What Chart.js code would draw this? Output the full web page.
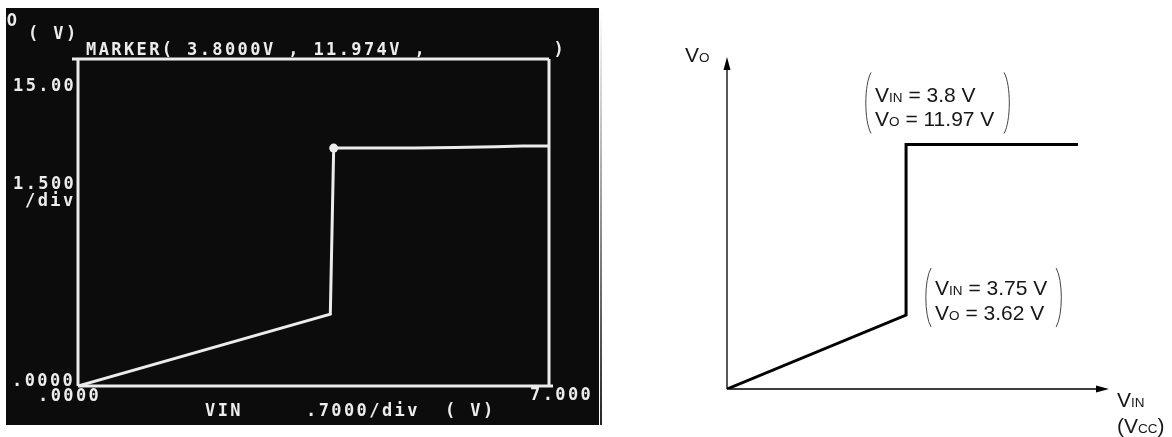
<!DOCTYPE html>
<html lang="en">
<head>
<meta charset="UTF-8">
<title>VIN - VO characteristic</title>
<script src="https://cdn.jsdelivr.net/npm/chart.js"></script>
<style>
    html, body { margin: 0; padding: 0; background: #fff; }
    body { width: 1172px; height: 437px; position: relative; overflow: hidden; }
    #scopeBox { position: absolute; left: 0; top: 0; width: 600px; height: 437px; }
    #sketchBox { position: absolute; left: 600px; top: 0; width: 572px; height: 437px; }
</style>
</head>
<body>

<!-- left: photo of the curve tracer screen, right: the redrawn sketch -->
<div id="scopeBox"><canvas id="scopeChart" width="600" height="437"></canvas></div>
<div id="sketchBox"><canvas id="sketchChart" width="572" height="437"></canvas></div>

<script>
    // measured trace on the scope (V)
    var scopeVin = [0, 3.75, 3.8, 5.0, 5.6, 6.2, 6.6, 7.0];
    var scopeVo = [0, 3.62, 11.974, 11.98, 12.0, 12.04, 12.08, 12.08];
    var markerVin = [3.8];
    var markerVo = [11.974];
    var scopeXRange = [0, 7];
    var scopeYRange = [0, 16.46];
    var scopeYTicks = [15, 0];
    var scopeYTickLabels = ['15.00', '.0000'];
    var scopeXTicks = [0, 7];
    var scopeXTickLabels = ['.0000', '7.000'];

    // sketch of the same curve (step drawn vertical)
    var sketchVin = [0, 3.75, 3.75, 7.35];
    var sketchVo = [0, 3.62, 11.97, 11.97];
    var sketchXRange = [0, 8];
    var sketchYRange = [0, 16.25];

    function toPoints(xs, ys) {
        return xs.map(function (x, i) { return {x: x, y: ys[i]}; });
    }

    var SCOPE_FG = '#ececec';
    var SCOPE_FONT = 'bold 17px "DejaVu Sans Mono"';

    var scopeScreen = {
        id: 'scopeScreen',
        beforeDraw: function (chart) {
            var ctx = chart.ctx;
            ctx.save();
            ctx.fillStyle = '#ffffff';
            ctx.fillRect(0, 0, chart.width, chart.height);
            ctx.fillStyle = '#0c0c0c';
            ctx.fillRect(6, 8, 593, 417);
            ctx.restore();
        },
        beforeDatasetsDraw: function (chart) {
            var ctx = chart.ctx;
            var a = chart.chartArea;
            ctx.save();
            ctx.strokeStyle = SCOPE_FG;
            ctx.lineWidth = 3;
            ctx.beginPath();
            ctx.moveTo(a.left - 6, a.top); ctx.lineTo(a.right, a.top);
            ctx.moveTo(a.left, a.top); ctx.lineTo(a.left, a.bottom);
            ctx.moveTo(a.right, a.top); ctx.lineTo(a.right, a.bottom);
            ctx.moveTo(a.left, a.bottom); ctx.lineTo(a.right + 4, a.bottom);
            ctx.stroke();
            ctx.restore();
        },
        afterDraw: function (chart) {
            var ctx = chart.ctx;
            var a = chart.chartArea;
            var xs = chart.scales.x, ys = chart.scales.y;
            ctx.save();
            ctx.beginPath();
            ctx.rect(6, 8, 593, 417);
            ctx.clip();
            ctx.fillStyle = SCOPE_FG;
            ctx.font = SCOPE_FONT;
            ctx.letterSpacing = '2.4px';
            ctx.textBaseline = 'middle';
            ctx.textAlign = 'left';

            // y axis title and the marker readout
            ctx.fillText('VO', a.left - 84, a.top - 37);
            ctx.fillText('( V)', a.left - 50, a.top - 24);
            ctx.fillText('MARKER( 3.8000V , 11.974V ,          )', a.left + 8, a.top - 8);

            // y ticks
            ctx.fillText(scopeYTickLabels[0], a.left - 65, ys.getPixelForValue(scopeYTicks[0]) - 1);
            ctx.fillText(scopeYTickLabels[1], a.left - 66, ys.getPixelForValue(scopeYTicks[1]) - 4);
            var mid = (ys.getPixelForValue(scopeYTicks[0]) + ys.getPixelForValue(scopeYTicks[1])) / 2;
            ctx.fillText('1.500', a.left - 65, mid - 52);
            ctx.fillText('/div', a.left - 53, mid - 35);

            // x ticks and x title
            ctx.fillText(scopeXTickLabels[0], xs.getPixelForValue(scopeXTicks[0]) - 40, a.bottom + 11);
            ctx.fillText(scopeXTickLabels[1], xs.getPixelForValue(scopeXTicks[1]) - 19, a.bottom + 10);
            ctx.fillText('VIN     .7000/div  ( V)', a.left + 127, a.bottom + 26);
            ctx.restore();
        }
    };

    new Chart(document.getElementById('scopeChart'), {
        type: 'scatter',
        data: {
            datasets: [{
                data: toPoints(scopeVin, scopeVo),
                showLine: true,
                borderColor: SCOPE_FG,
                borderWidth: 3,
                borderJoinStyle: 'miter',
                pointRadius: 0,
                tension: 0
            }, {
                data: toPoints(markerVin, markerVo),
                pointRadius: 4.5,
                backgroundColor: SCOPE_FG,
                borderWidth: 0
            }]
        },
        options: {
            responsive: false,
            animation: false,
            events: [],
            layout: {padding: {left: 78, top: 59, right: 51, bottom: 51}},
            plugins: {legend: {display: false}, tooltip: {enabled: false}},
            scales: {
                x: {type: 'linear', display: false, min: scopeXRange[0], max: scopeXRange[1]},
                y: {type: 'linear', display: false, min: scopeYRange[0], max: scopeYRange[1]}
            }
        },
        plugins: [scopeScreen]
    });

    // text with small capital subscripts, parts = [[text, size], ...]
    function drawRich(ctx, x, y, parts) {
        parts.forEach(function (p) {
            ctx.font = p[1] + 'px "Liberation Sans"';
            ctx.fillText(p[0], x, y);
            x += ctx.measureText(p[0]).width;
        });
    }

    function drawParens(ctx, left, right, top, bottom) {
        var h = bottom - top;
        ctx.beginPath();
        ctx.moveTo(left + 6, top);
        ctx.bezierCurveTo(left - 1, top + h * 0.2, left - 1, bottom - h * 0.2, left + 6, bottom);
        ctx.moveTo(right - 6, top);
        ctx.bezierCurveTo(right + 1, top + h * 0.2, right + 1, bottom - h * 0.2, right - 6, bottom);
        ctx.stroke();
    }

    var sketchDecor = {
        id: 'sketchDecor',
        beforeDraw: function (chart) {
            var ctx = chart.ctx;
            // edge of the photo that spills over
            var g = ctx.createLinearGradient(0, 10, 0, 425);
            g.addColorStop(0, 'rgba(0,0,0,0)');
            g.addColorStop(1, 'rgba(0,0,0,0.85)');
            ctx.save();
            ctx.fillStyle = g;
            ctx.fillRect(0, 10, 2, 415);
            ctx.restore();
        },
        beforeDatasetsDraw: function (chart) {
            var ctx = chart.ctx;
            var a = chart.chartArea;
            var x0 = chart.scales.x.getPixelForValue(0);
            var y0 = chart.scales.y.getPixelForValue(0);
            ctx.save();
            ctx.strokeStyle = '#000';
            ctx.fillStyle = '#000';
            ctx.lineWidth = 1.3;
            ctx.beginPath();
            ctx.moveTo(x0, y0); ctx.lineTo(x0, a.top + 10);
            ctx.moveTo(x0, y0); ctx.lineTo(a.right - 10, y0);
            ctx.stroke();
            ctx.beginPath();
            ctx.moveTo(x0, a.top); ctx.lineTo(x0 - 3.5, a.top + 13); ctx.lineTo(x0 + 3.5, a.top + 13);
            ctx.closePath();
            ctx.moveTo(a.right, y0); ctx.lineTo(a.right - 13, y0 - 3.5); ctx.lineTo(a.right - 13, y0 + 3.5);
            ctx.closePath();
            ctx.fill();
            ctx.restore();
        },
        afterDraw: function (chart) {
            var ctx = chart.ctx;
            var a = chart.chartArea;
            var xs = chart.scales.x, ys = chart.scales.y;
            var x0 = xs.getPixelForValue(0);
            var y0 = ys.getPixelForValue(0);
            ctx.save();
            ctx.fillStyle = '#161616';
            ctx.textBaseline = 'alphabetic';
            ctx.textAlign = 'left';

            // axis titles
            drawRich(ctx, x0 - 42, a.top + 5, [['V', 21], ['O', 13.5]]);
            drawRich(ctx, a.right + 8, y0 + 18, [['V', 21], ['IN', 13.5]]);
            drawRich(ctx, a.right + 8, y0 + 44, [['(V', 21], ['CC', 13.5], [')', 21]]);

            ctx.strokeStyle = '#444';
            ctx.lineWidth = 1;

            // top point annotation
            var px = xs.getPixelForValue(sketchVin[2]), py = ys.getPixelForValue(sketchVo[2]);
            drawRich(ctx, px - 31, py - 42, [['V', 21], ['IN', 13.5], [' = 3.8 V', 21]]);
            drawRich(ctx, px - 31, py - 18, [['V', 21], ['O', 13.5], [' = 11.97 V', 21]]);
            drawParens(ctx, px - 41, px + 104, py - 72, py - 11);

            // kink annotation
            px = xs.getPixelForValue(sketchVin[1]); py = ys.getPixelForValue(sketchVo[1]);
            drawRich(ctx, px + 29, py - 20, [['V', 21], ['IN', 13.5], [' = 3.75 V', 21]]);
            drawRich(ctx, px + 29, py + 5, [['V', 21], ['O', 13.5], [' = 3.62 V', 21]]);
            drawParens(ctx, px + 19, px + 156, py - 47, py + 12);
            ctx.restore();
        }
    };

    new Chart(document.getElementById('sketchChart'), {
        type: 'scatter',
        data: {
            datasets: [{
                data: toPoints(sketchVin, sketchVo),
                showLine: true,
                borderColor: '#000',
                borderWidth: 3,
                borderJoinStyle: 'miter',
                pointRadius: 0,
                tension: 0
            }]
        },
        options: {
            responsive: false,
            animation: false,
            events: [],
            layout: {padding: {left: 127, top: 57, right: 63, bottom: 48}},
            plugins: {legend: {display: false}, tooltip: {enabled: false}},
            scales: {
                x: {type: 'linear', display: false, min: sketchXRange[0], max: sketchXRange[1]},
                y: {type: 'linear', display: false, min: sketchYRange[0], max: sketchYRange[1]}
            }
        },
        plugins: [sketchDecor]
    });
</script>
</body>
</html>
